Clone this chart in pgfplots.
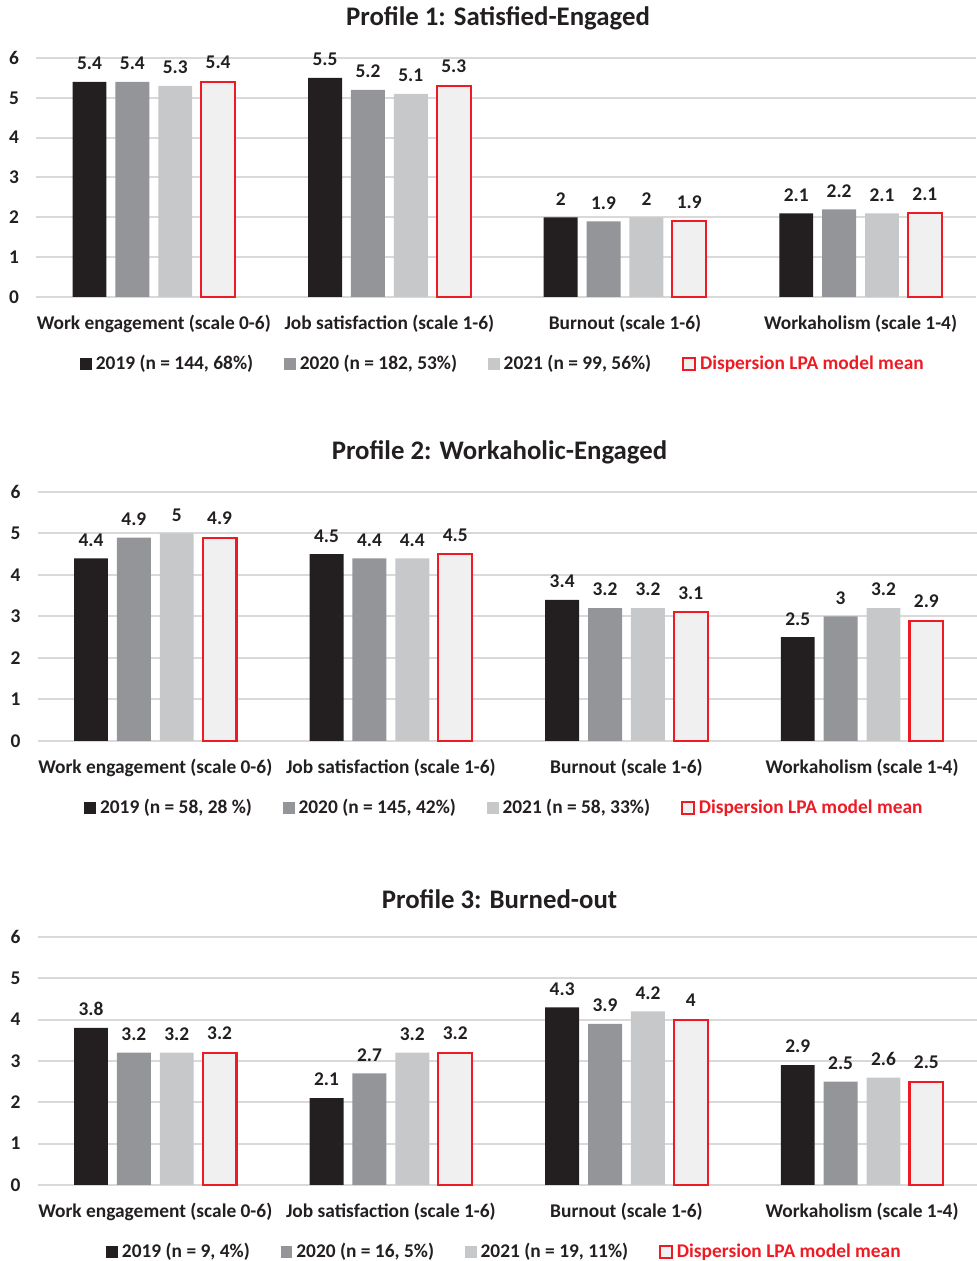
\documentclass[border=0pt]{standalone}
\usepackage{pgfplots}
\pgfplotsset{compat=1.18}
\usepackage{fontspec}
\setmainfont{Carlito}
\definecolor{c1}{HTML}{231F20}
\definecolor{c2}{HTML}{939598}
\definecolor{c3}{HTML}{C7C8CA}
\definecolor{c4}{HTML}{F0F0F0}
\definecolor{cred}{HTML}{ED1C24}
\definecolor{gridc}{HTML}{D9D9D9}
\definecolor{txt}{HTML}{231F20}
\newcommand{\lblfont}{\bfseries\fontsize{9.7}{11}\selectfont}
\pgfplotsset{
 sq legend/.style={legend image code/.code={\path[##1] (0pt,-2.9pt) rectangle (5.8pt,2.9pt);}},
 panel/.style={
  scale only axis, width=470pt, height=#1,
  xmin=-0.5, xmax=3.49, ymin=0, ymax=6,
  ybar, bar width=0.144,
  xtick={0,1,2,3},
  xticklabels={Work engagement (scale 0-6), Job satisfaction (scale 1-6), Burnout (scale 1-6), Workaholism (scale 1-4)},
  ytick={0,1,2,3,4,5,6},
  ymajorgrids, grid style={gridc, line width=1pt},
  axis line style={draw=none},
  major tick length=0pt,
  tick label style={font=\lblfont, text=txt},
  /pgf/number format/assume math mode=true,
  xticklabel style={yshift=-5.5pt},
  yticklabel style={xshift=-5pt},
  title style={font=\bfseries\fontsize{13.4}{15}\selectfont, text=txt, at={(axis description cs:0.5,1)}, anchor=south, yshift=4.5pt, xshift=-4pt},
  nodes near coords,
  every node near coord/.append style={font=\lblfont, text=txt, yshift=2.5pt},
  clip=false,
  legend columns=4,
  legend style={draw=none, fill=none, at={(axis description cs:0.5,0)}, anchor=center, yshift=-33.5pt, xshift=-1pt, font=\lblfont, text=txt,
    /tikz/every even column/.append style={column sep=13.5pt}},
 },
 s1/.style={bar shift=-0.273, fill=c1, draw=none, sq legend},
 s2/.style={bar shift=-0.091, fill=c2, draw=none, sq legend},
 s3/.style={bar shift=0.091, fill=c3, draw=none, sq legend},
 s4/.style={bar shift=0.273, fill=c4, draw=cred, line width=1.1pt, sq legend},
}
\begin{document}
\begin{tikzpicture}
\path[use as bounding box] (0,0) rectangle (488pt,630.5pt);
% Panel 1
\begin{axis}[panel=119.5pt, at={(18pt,482pt)}, anchor=south west, title={Profile 1: Satisfied-Engaged}]
\addplot[s1] coordinates {(0,5.4) (1,5.5) (2,2) (3,2.1)};
\addplot[s2] coordinates {(0,5.4) (1,5.2) (2,1.9) (3,2.2)};
\addplot[s3] coordinates {(0,5.3) (1,5.1) (2,2) (3,2.1)};
\addplot[s4] coordinates {(0,5.4) (1,5.3) (2,1.9) (3,2.1)};
\addlegendentry{2019 (n = 144, 68\%)}
\addlegendentry{2020 (n = 182, 53\%)}
\addlegendentry{2021 (n = 99, 56\%)}
\addlegendentry{\textcolor{cred}{Dispersion LPA model mean}}
\end{axis}
% Panel 2
\begin{axis}[panel=124.5pt, at={(18.75pt,260pt)}, anchor=south west, title={Profile 2: Workaholic-Engaged}]
\addplot[s1] coordinates {(0,4.4) (1,4.5) (2,3.4) (3,2.5)};
\addplot[s2] coordinates {(0,4.9) (1,4.4) (2,3.2) (3,3)};
\addplot[s3] coordinates {(0,5) (1,4.4) (2,3.2) (3,3.2)};
\addplot[s4] coordinates {(0,4.9) (1,4.5) (2,3.1) (3,2.9)};
\addlegendentry{2019 (n = 58, 28 \%)}
\addlegendentry{2020 (n = 145, 42\%)}
\addlegendentry{2021 (n = 58, 33\%)}
\addlegendentry{\textcolor{cred}{Dispersion LPA model mean}}
\end{axis}
% Panel 3
\begin{axis}[panel=124pt, at={(18.75pt,38pt)}, anchor=south west, title={Profile 3: Burned-out}]
\addplot[s1] coordinates {(0,3.8) (1,2.1) (2,4.3) (3,2.9)};
\addplot[s2] coordinates {(0,3.2) (1,2.7) (2,3.9) (3,2.5)};
\addplot[s3] coordinates {(0,3.2) (1,3.2) (2,4.2) (3,2.6)};
\addplot[s4] coordinates {(0,3.2) (1,3.2) (2,4) (3,2.5)};
\addlegendentry{2019 (n = 9, 4\%)}
\addlegendentry{2020 (n = 16, 5\%)}
\addlegendentry{2021 (n = 19, 11\%)}
\addlegendentry{\textcolor{cred}{Dispersion LPA model mean}}
\end{axis}
\end{tikzpicture}
\end{document}
